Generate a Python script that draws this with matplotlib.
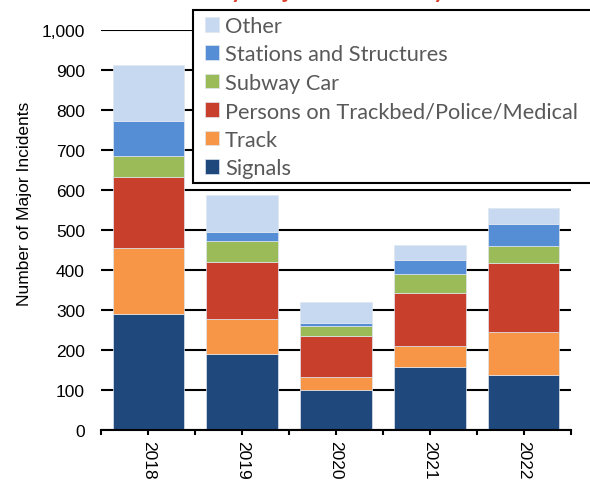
import numpy as np
import matplotlib.pyplot as plt
from matplotlib.patches import Rectangle
from matplotlib.ticker import FuncFormatter, FixedLocator

# Data
years = ["2018", "2019", "2020", "2021", "2022"]
signals = [290, 190, 100, 158, 138]
track = [164, 87, 33, 53, 107]
persons = [179, 144, 102, 132, 172]
subway_car = [52, 51, 25, 47, 43]
stations = [87, 24, 8, 36, 56]
other = [140, 92, 52, 36, 38]

categories = ["Signals", "Track", "Persons on Trackbed/Police/Medical",
              "Subway Car", "Stations and Structures", "Other"]
series = [signals, track, persons, subway_car, stations, other]
colors = ["#1F497D", "#F79646", "#C8402B", "#9BBB59", "#558ED5", "#C6D9F1"]

plt.rcParams['font.family'] = ['Liberation Sans', 'DejaVu Sans']

fig = plt.figure(figsize=(5.9, 4.85), dpi=100)
ax = fig.add_axes([0.172, 0.1105, 0.795, 0.8262])

x = np.arange(len(years))
bottom = np.zeros(len(years))
handles = []
for name, vals, col in zip(categories, series, colors):
    vals = np.array(vals, dtype=float)
    b = ax.bar(x, vals, bottom=bottom, width=0.764, color=col,
               edgecolor="#dfe6ef", linewidth=0.5, label=name, zorder=3)
    handles.append(b)
    bottom += vals

ax.set_xlim(-0.5, len(years) - 0.5)
ax.set_ylim(0, 1000)
ax.set_yticks(np.arange(0, 1001, 100))
ax.yaxis.set_major_formatter(FuncFormatter(lambda v, p: f"{int(v):,}"))
ax.grid(axis="y", color="black", linewidth=1.5, zorder=0)
ax.set_axisbelow(True)
ax.tick_params(axis="y", length=0, pad=12, labelsize=12.5)

ax.set_xticks(x)
ax.set_xticklabels(years, rotation=-90)
ax.xaxis.set_minor_locator(FixedLocator(np.arange(-0.5, len(years), 1.0)))
ax.tick_params(axis="x", which="both", direction="out", length=3.6, width=1.5,
               color="black", labelsize=12.5, pad=3)

for s in ["left", "right", "top"]:
    ax.spines[s].set_visible(False)
ax.spines["bottom"].set_linewidth(1.5)
ax.spines["bottom"].set_zorder(4)

ax.set_ylabel("Number of Major Incidents", fontsize=12.5)
ax.yaxis.set_label_coords(-0.148, 0.569)

# Title (clipped at the top edge of the figure)
fig.text(0.56, 1.004, "Subway Major Incidents by Year", color="#D9412B",
         fontsize=17, fontweight="bold", ha="center", va="baseline",
         family=["Lato", "DejaVu Sans"])

# Legend box running past the right edge of the figure
box = Rectangle((193.3 / 590, 1 - 184 / 485), 0.8, (184 - 11) / 485,
                transform=fig.transFigure, facecolor="white",
                edgecolor="black", linewidth=1.5, zorder=4)
fig.patches.append(box)

leg = fig.legend(handles[::-1], categories[::-1], loc="upper left",
                 bbox_to_anchor=(205 / 590, 1 - 17 / 485),
                 borderaxespad=0, borderpad=0, frameon=False,
                 handlelength=0.66, handleheight=0.66, handletextpad=0.25,
                 labelspacing=0.385,
                 prop={"family": ["Lato", "DejaVu Sans"], "size": 15.7})
leg.set_zorder(5)
for t in leg.get_texts():
    t.set_color("#595959")

fig.savefig("out.png", dpi=100)
